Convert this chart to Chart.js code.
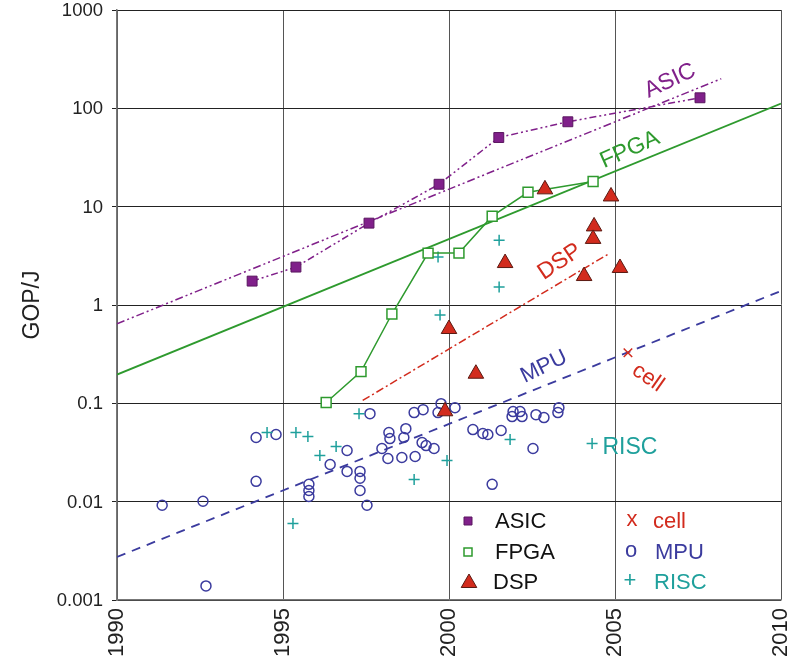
<!DOCTYPE html>
<html>
<head>
<meta charset="UTF-8">
<title>GOP/J</title>
<script src="https://cdn.jsdelivr.net/npm/chart.js"></script>
<style>
    body { margin: 0; background: #fff; }
    #wrap { width: 800px; height: 663px; }
</style>
</head>
<body>
<div id="wrap"><canvas id="chart" width="800" height="663"></canvas></div>
<script>
// values: [year, GOP/J]
const asicPts = [[1994.07, 1.75], [1995.39, 2.43], [1997.59, 6.8], [1999.70, 16.9], [2001.5, 50.5], [2003.58, 73], [2007.56, 128]];
const fpgaPts = [[1996.30, 0.102], [1997.35, 0.21], [1998.28, 0.81], [1999.37, 3.37], [2000.30, 3.37], [2001.30, 8.0], [2002.38, 14], [2004.34, 18]];
const dspPts = [[2002.89, 15], [2004.88, 12.7], [2004.37, 6.3], [2004.34, 4.7], [2001.69, 2.67], [2004.07, 1.97], [2005.15, 2.38], [2000.0, 0.57], [2000.81, 0.20], [1999.88, 0.083]];
const mpuPts = [
    [1991.36, 0.0092], [1992.59, 0.0101], [1992.68, 0.00139], [1994.19, 0.0449], [1994.19, 0.0161], [1994.79, 0.0482],
    [1995.78, 0.0150], [1995.78, 0.0130], [1995.78, 0.0113], [1996.42, 0.0239], [1996.93, 0.0331], [1996.93, 0.0203],
    [1997.32, 0.0203], [1997.32, 0.0173], [1997.32, 0.0130], [1997.53, 0.0092], [1997.62, 0.0785], [1997.98, 0.0347],
    [1998.16, 0.0275], [1998.19, 0.0505], [1998.22, 0.0438], [1998.58, 0.0281], [1998.70, 0.0553], [1998.64, 0.0449],
    [1998.98, 0.0288], [1998.95, 0.0805], [1999.22, 0.0863], [1999.19, 0.0399], [1999.31, 0.0372], [1999.55, 0.0347],
    [1999.76, 0.0993], [1999.67, 0.0805], [2000.18, 0.0904], [2000.72, 0.0541], [2001.02, 0.0493], [2001.17, 0.0482],
    [2001.57, 0.0529], [2002.53, 0.0347], [2001.30, 0.0150], [2001.93, 0.0824], [2001.90, 0.0733], [2002.14, 0.0824],
    [2002.20, 0.0733], [2002.62, 0.0767], [2002.86, 0.0716], [2003.31, 0.0904], [2003.28, 0.0805]
];
const riscPts = [
    [1994.52, 0.0505], [1995.39, 0.0505], [1995.75, 0.0459], [1996.11, 0.0295], [1996.60, 0.0364], [1995.30, 0.0060],
    [1997.29, 0.0785], [1998.95, 0.0168], [1999.94, 0.0262], [2001.84, 0.0428], [2004.31, 0.0390],
    [1999.67, 3.07], [1999.73, 0.79], [2001.51, 4.56], [2001.51, 1.52]
];
const cellPts = [[2005.39, 0.327]];

// trend lines (end points)
const asicTrend = [[1990, 0.645], [2008.2, 200]];
const fpgaTrend = [[1990, 0.196], [2010, 112]];
const dspTrend = [[1997.4, 0.107], [2004.8, 3.3]];
const mpuTrend = [[1990, 0.00274], [2010, 1.39]];

const yTicks = [0.001, 0.01, 0.1, 1, 10, 100, 1000];
const yTickLabels = ['0.001', '0.01', '0.1', '1', '10', '100', '1000'];
const xTicks = [1990, 1995, 2000, 2005, 2010];

const FONT = "'Liberation Sans', Arial, sans-serif";
const PURPLE = '#80208a';
const GREEN = '#2e9a2e';
const RED = '#d22b1d';
const BLUE = '#3b3b9e';
const TEAL = '#1fa09c';

const xy = arr => arr.map(p => ({ x: p[0], y: p[1] }));

// curve labels, placed in data coordinates
const curveLabels = [
    { text: 'ASIC', x: 2006.66, y: 190, angle: -25, color: PURPLE, size: 23 },
    { text: 'FPGA', x: 2005.45, y: 38, angle: -24, color: GREEN, size: 23 },
    { text: 'DSP', x: 2003.34, y: 2.75, angle: -34, color: RED, size: 23 },
    { text: 'MPU', x: 2002.86, y: 0.235, angle: -26, color: BLUE, size: 22 },
    { text: 'cell', x: 2005.99, y: 0.182, angle: 35, color: RED, size: 22 },
    { text: 'RISC', x: 2005.45, y: 0.0356, angle: 0, color: TEAL, size: 23 }
];

const labelPlugin = {
    id: 'labels',
    afterDatasetsDraw(chart) {
        const ctx = chart.ctx;
        const xs = chart.scales.x, ys = chart.scales.y;
        ctx.save();
        curveLabels.forEach(l => {
            ctx.save();
            ctx.translate(xs.getPixelForValue(l.x), ys.getPixelForValue(l.y));
            ctx.rotate(l.angle * Math.PI / 180);
            ctx.font = l.size + 'px ' + FONT;
            ctx.fillStyle = l.color;
            ctx.textAlign = 'center';
            ctx.textBaseline = 'middle';
            ctx.fillText(l.text, 0, 0);
            ctx.restore();
        });

        // legend in the lower right of the plot
        const m1 = 468, rows = [522, 553, 583];
        ctx.font = '22px ' + FONT;
        ctx.textBaseline = 'middle';
        ctx.textAlign = 'left';
        ctx.fillStyle = PURPLE; ctx.strokeStyle = '#5a1660'; ctx.lineWidth = 1;
        ctx.beginPath(); ctx.rect(m1 - 4, rows[0] - 5, 8, 8); ctx.fill(); ctx.stroke();
        ctx.fillStyle = '#fff'; ctx.strokeStyle = GREEN; ctx.lineWidth = 1.5;
        ctx.beginPath(); ctx.rect(m1 - 4, rows[1] - 5, 8, 8); ctx.fill(); ctx.stroke();
        ctx.fillStyle = RED; ctx.strokeStyle = '#5a1a12'; ctx.lineWidth = 1;
        Chart.helpers.drawPoint(ctx, { pointStyle: 'triangle', radius: 9, borderWidth: 1 }, m1 + 1, rows[2]);
        ctx.fillStyle = '#111';
        ctx.fillText('ASIC', 495, rows[0]);
        ctx.fillText('FPGA', 495, rows[1]);
        ctx.fillText('DSP', 493, rows[2]);

        ctx.textAlign = 'center';
        ctx.fillStyle = RED; ctx.fillText('x', 632, rows[0] - 2);
        ctx.fillStyle = BLUE; ctx.fillText('o', 631, rows[1] - 2);
        ctx.fillStyle = TEAL; ctx.fillText('+', 630, rows[2] - 2);
        ctx.textAlign = 'left';
        ctx.fillStyle = RED; ctx.fillText('cell', 653, rows[0]);
        ctx.fillStyle = BLUE; ctx.fillText('MPU', 655, rows[1]);
        ctx.fillStyle = TEAL; ctx.fillText('RISC', 654, rows[2]);
        ctx.restore();
    }
};

const trend = (label, pts, color, dash, width) => ({
    label, data: xy(pts), showLine: true, borderColor: color, borderWidth: width,
    borderDash: dash, pointRadius: 0, fill: false
});

new Chart(document.getElementById('chart'), {
    type: 'scatter',
    data: {
        datasets: [
            { label: 'DSP', data: xy(dspPts), pointStyle: 'triangle', pointRadius: 9, backgroundColor: RED, borderColor: '#5a1a12', borderWidth: 1 },
            { label: 'ASIC', data: xy(asicPts), showLine: true, borderDash: [7, 3, 2, 3, 2, 3], borderColor: PURPLE, borderWidth: 1.5,
              pointStyle: 'rect', pointRadius: 7, pointBackgroundColor: PURPLE, pointBorderColor: '#5a1660', pointBorderWidth: 1 },
            { label: 'FPGA', data: xy(fpgaPts), showLine: true, borderColor: GREEN, borderWidth: 1.5,
              pointStyle: 'rect', pointRadius: 7, pointBackgroundColor: '#fff', pointBorderColor: GREEN, pointBorderWidth: 1.5 },
            { label: 'cell', data: xy(cellPts), pointStyle: 'crossRot', pointRadius: 6, borderColor: RED, borderWidth: 1.5 },
            { label: 'RISC', data: xy(riscPts), pointStyle: 'cross', pointRadius: 5.5, borderColor: TEAL, borderWidth: 1.5 },
            { label: 'MPU', data: xy(mpuPts), pointStyle: 'circle', pointRadius: 5, backgroundColor: 'rgba(0,0,0,0)', borderColor: BLUE, borderWidth: 1.5 },
            trend('ASIC trend', asicTrend, PURPLE, [8, 3, 2, 3, 2, 3], 1.5),
            trend('FPGA trend', fpgaTrend, GREEN, [], 1.8),
            trend('DSP trend', dspTrend, RED, [8, 3, 2, 3], 1.5),
            trend('MPU trend', mpuTrend, BLUE, [9, 7], 1.8)
        ]
    },
    options: {
        responsive: false,
        animation: false,
        layout: { padding: { top: 10, right: 19, left: 0, bottom: 0 } },
        plugins: { legend: { display: false }, tooltip: { enabled: false } },
        scales: {
            x: {
                type: 'linear', min: 1990, max: 2010,
                afterBuildTicks: s => { s.ticks = xTicks.map(v => ({ value: v })); },
                afterFit: s => { s.height = 63; s.paddingLeft = 0; s.paddingRight = 0; },
                grid: { color: '#555', lineWidth: 1, drawTicks: false },
                border: { color: '#777', width: 1.5 },
                ticks: { maxRotation: 90, minRotation: 90, padding: 8, color: '#222', font: { family: FONT, size: 22 },
                         callback: v => String(v) }
            },
            y: {
                type: 'logarithmic', min: 0.001, max: 1000,
                afterBuildTicks: s => { s.ticks = yTicks.map(v => ({ value: v })); },
                afterFit: s => { s.width = 117; s.paddingTop = 0; s.paddingBottom = 0; },
                grid: { color: '#222', lineWidth: 1, tickLength: 5 },
                border: { color: '#777', width: 1.5 },
                ticks: { padding: 9, labelOffset: 1, color: '#222', font: { family: FONT, size: 18.5 },
                         callback: (v, i) => yTickLabels[i] },
                title: { display: true, text: 'GOP/J', color: '#222', font: { family: FONT, size: 23 }, padding: { top: 19, bottom: 0 } }
            }
        }
    },
    plugins: [labelPlugin]
});
</script>
</body>
</html>
